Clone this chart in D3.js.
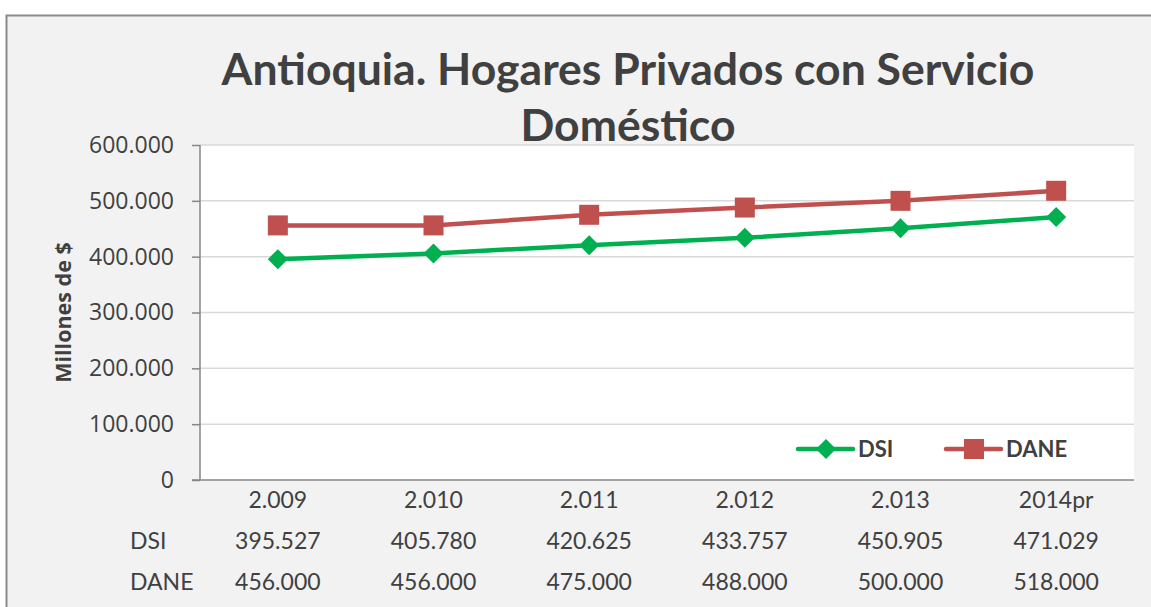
<!DOCTYPE html>
<html>
<head>
<meta charset="utf-8">
<script src="https://cdn.jsdelivr.net/npm/d3@7"></script>
<style>
  html, body { margin: 0; padding: 0; background: #ffffff; }
  svg { display: block; }
  text { font-family: Lato, "Open Sans", sans-serif; }
</style>
</head>
<body>
<svg id="chart" width="1151" height="607"></svg>
<script>
// Series and labels
const categories = ["2.009", "2.010", "2.011", "2.012", "2.013", "2014pr"];
const dsiValues  = [395527, 405780, 420625, 433757, 450905, 471029];
const daneValues = [456000, 456000, 475000, 488000, 500000, 518000];
const yTicks     = [0, 100000, 200000, 300000, 400000, 500000, 600000];
const seriesNames = ["DSI", "DANE"];
const titleLines = ["Antioquia. Hogares Privados con Servicio", "Doméstico"];
const yTitle = "Millones de $";

const colors = { DSI: "#00b050", DANE: "#c0504d" };
const textColor = "#404040";

const esLocale = d3.formatLocale({ decimal: ",", thousands: ".", grouping: [3], currency: ["$", ""] });
const fmt = esLocale.format(",.0f");

const svg = d3.select("#chart");
const W = 1151, H = 607;

// chart area background and frame
svg.append("rect").attr("x", 0).attr("y", 0).attr("width", W).attr("height", H).attr("fill", "#ffffff");
svg.append("rect")
  .attr("x", 6.5).attr("y", 15.5).attr("width", W + 20).attr("height", H + 20)
  .attr("fill", "#f2f2f2").attr("stroke", "#8a8a8a").attr("stroke-width", 2);

const plot = { left: 200, right: 1134, top: 145, bottom: 480 };

const x = d3.scaleBand().domain(categories).range([plot.left, plot.right]);
const y = d3.scaleLinear().domain([0, 600000]).range([plot.bottom, plot.top]);
const cx = c => x(c) + x.bandwidth() / 2;

// plot area
svg.append("rect")
  .attr("x", plot.left).attr("y", plot.top)
  .attr("width", plot.right - plot.left).attr("height", plot.bottom - plot.top)
  .attr("fill", "#ffffff");

// gridlines
svg.append("g").selectAll("line").data(yTicks.filter(v => v > 0)).join("line")
  .attr("x1", plot.left).attr("x2", plot.right)
  .attr("y1", d => y(d)).attr("y2", d => y(d))
  .attr("stroke", "#d9d9d9").attr("stroke-width", 1.5);

// y axis
const yAxis = d3.axisLeft(y).tickValues(yTicks).tickFormat(fmt).tickSize(8).tickPadding(18);
const gy = svg.append("g").attr("transform", `translate(${plot.left},0)`).call(yAxis);
gy.select(".domain").attr("stroke", "#868686").attr("stroke-width", 1.5).attr("d", `M0,${plot.top}V${plot.bottom}`);
gy.selectAll(".tick line").attr("stroke", "#868686").attr("stroke-width", 1.5);
gy.selectAll(".tick text")
  .attr("fill", "#404040")
  .style("font-family", "'Open Sans', sans-serif")
  .style("font-size", "23px");

// x axis baseline
svg.append("line")
  .attr("x1", plot.left - 8).attr("x2", plot.right)
  .attr("y1", plot.bottom).attr("y2", plot.bottom)
  .attr("stroke", "#868686").attr("stroke-width", 1.5);

// y axis title
svg.append("text")
  .attr("transform", `translate(71,${(plot.top + plot.bottom) / 2}) rotate(-90)`)
  .attr("text-anchor", "middle")
  .attr("fill", textColor)
  .style("font-family", "'Open Sans', sans-serif")
  .style("font-weight", "bold")
  .style("font-size", "21.5px")
  .text(yTitle);

// lines
const line = d3.line().x((d, i) => cx(categories[i])).y(d => y(d));
const seriesData = { DSI: dsiValues, DANE: daneValues };

seriesNames.slice().reverse().forEach(name => {
  svg.append("path")
    .datum(seriesData[name])
    .attr("fill", "none")
    .attr("stroke", colors[name])
    .attr("stroke-width", 4.5)
    .attr("stroke-linejoin", "round")
    .attr("d", line);
});

function drawMarker(g, name, px, py) {
  if (name === "DSI") {
    const r = 10;
    g.append("path")
      .attr("d", `M${px},${py - r}L${px + r},${py}L${px},${py + r}L${px - r},${py}Z`)
      .attr("fill", colors.DSI);
  } else {
    const s = 20;
    g.append("rect")
      .attr("x", px - s / 2).attr("y", py - s / 2)
      .attr("width", s).attr("height", s)
      .attr("fill", colors.DANE);
  }
}

const markers = svg.append("g");
seriesNames.forEach(name => {
  seriesData[name].forEach((v, i) => drawMarker(markers, name, cx(categories[i]), y(v)));
});

// legend
const legendItems = [
  { name: "DSI", x0: 798 },
  { name: "DANE", x0: 946 }
];
const ly = 449;
legendItems.forEach(it => {
  svg.append("line")
    .attr("x1", it.x0).attr("x2", it.x0 + 55)
    .attr("y1", ly).attr("y2", ly)
    .attr("stroke", colors[it.name]).attr("stroke-width", 4.5).attr("stroke-linecap", "round");
  drawMarker(svg, it.name, it.x0 + 28, ly);
  svg.append("text")
    .attr("x", it.x0 + 60).attr("y", ly + 8)
    .attr("fill", textColor)
    .style("font-weight", "bold").style("font-size", "22px")
    .text(it.name);
});

// category labels and data table
const table = svg.append("g").style("font-size", "23px").attr("fill", textColor);
table.selectAll("text.cat").data(categories).join("text")
  .attr("class", "cat")
  .attr("x", d => cx(d)).attr("y", 508)
  .attr("text-anchor", "middle")
  .text(d => d);

const rowsY = { DSI: 549, DANE: 590 };
seriesNames.forEach(name => {
  table.append("text")
    .attr("x", 130).attr("y", rowsY[name])
    .text(name);
  table.selectAll(`text.v${name}`).data(seriesData[name]).join("text")
    .attr("class", `v${name}`)
    .attr("x", (d, i) => cx(categories[i])).attr("y", rowsY[name])
    .attr("text-anchor", "middle")
    .text(d => fmt(d));
});

// title, sized so the first line spans the title block width
const title = svg.append("text")
  .attr("text-anchor", "middle")
  .attr("fill", textColor)
  .style("font-weight", "bold");
const tx = 628;
title.append("tspan").attr("x", tx).attr("y", 85).text(titleLines[0]);
title.append("tspan").attr("x", tx).attr("y", 141).text(titleLines[1]);
title.style("font-size", "40px");
const w0 = title.select("tspan").node().getComputedTextLength();
title.style("font-size", (40 * 812 / w0).toFixed(1) + "px");
</script>
</body>
</html>
